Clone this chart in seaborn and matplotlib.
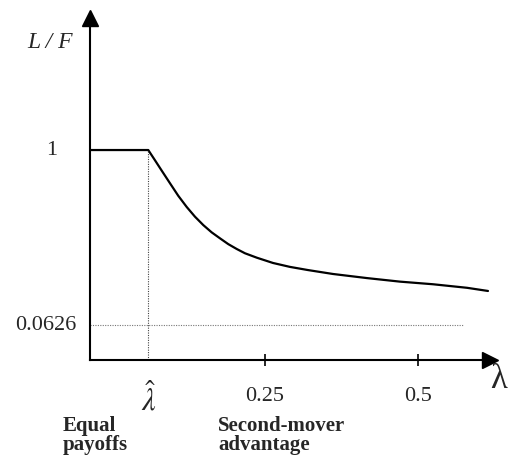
import numpy as np
import pandas as pd
import matplotlib
matplotlib.use("Agg")
import matplotlib.pyplot as plt
import matplotlib.transforms as mtransforms
import seaborn as sns

lam = [-0.0359, 0.0593, 0.0703, 0.0812, 0.0948, 0.1083, 0.1221, 0.1356,
       0.1492, 0.1629, 0.1765, 0.1900, 0.2038, 0.2173, 0.2369, 0.2631,
       0.2908, 0.3203, 0.3611, 0.4167, 0.4706, 0.5245, 0.5801, 0.6144]
ratio = [1.0, 1.0, 0.945, 0.890, 0.822, 0.755, 0.695, 0.643,
         0.598, 0.559, 0.527, 0.496, 0.470, 0.447, 0.423, 0.395,
         0.374, 0.357, 0.336, 0.314, 0.295, 0.281, 0.262, 0.245]

lam_hat = 0.0593
floor_value = 0.0626
floor_end = 0.5735
x_ticks = [0.25, 0.5]
x_tick_labels = ["0.25", "0.5"]
y_ticks = [floor_value, 1.0]
y_tick_labels = ["0.0626", "1"]

xlim = (-0.0359, 0.6185)
ylim = (-0.1248, 1.710)

df = pd.DataFrame({"lam": lam, "ratio": ratio})

sns.set_theme(style="white")
plt.rcParams["font.family"] = ["Liberation Serif", "DejaVu Serif"]
plt.rcParams["mathtext.fontset"] = "stix"

W, H = 510, 457
fig = plt.figure(figsize=(W / 100, H / 100), dpi=100)
ax = fig.add_axes([90 / W, 97 / H, (490.5 - 90) / W, (360 - 17.5) / H])

sns.lineplot(data=df, x="lam", y="ratio", ax=ax, color="black", lw=1.6)

# dotted guides
ax.plot([lam_hat, lam_hat], [ylim[0], 1.0], color="#444444", lw=0.8,
        ls=(0, (1, 1.2)))
ax.plot([xlim[0], floor_end], [floor_value, floor_value], color="#777777",
        lw=0.8, ls=(0, (1, 1.2)))

ax.set_xlim(*xlim)
ax.set_ylim(*ylim)

# axes with arrow heads
for s in ["top", "right"]:
    ax.spines[s].set_visible(False)
for s in ["left", "bottom"]:
    ax.spines[s].set_color("black")
    ax.spines[s].set_linewidth(1.5)
ax.plot(1, 0, ">", color="black", ms=11, transform=ax.transAxes, clip_on=False)
ax.plot(0, 1, "^", color="black", ms=11, transform=ax.transAxes, clip_on=False)

# x ticks
ax.set_xticks([lam_hat] + x_ticks)
ax.set_xticklabels([r"$\hat{\lambda}$"] + x_tick_labels)
ax.tick_params(axis="x", direction="inout", length=9, width=1.2,
               color="black", labelsize=16, pad=15, bottom=True)
ax.xaxis.get_major_ticks()[0].tick1line.set_visible(False)
hat_label = ax.get_xticklabels()[0]
hat_label.set_fontsize(22)
hat_label.set_transform(hat_label.get_transform() +
                        mtransforms.ScaledTranslation(0, 3 / 72, fig.dpi_scale_trans))

# y labels
ax.set_yticks([])
ytr = ax.get_yaxis_transform()
ax.text(-0.095, y_ticks[1], y_tick_labels[1], transform=ytr, fontsize=16,
        ha="center", va="center")
ax.text(-0.034, y_ticks[0], y_tick_labels[0], transform=ytr, fontsize=16,
        ha="right", va="center")

ax.set_xlabel("")
ax.set_ylabel("")

# axis names
fig.text(50 / W, 1 - 43 / H, "L / F", fontsize=17, style="italic",
         ha="center", va="center")
fig.text(499 / W, 1 - 379 / H, "λ", fontsize=25, ha="center", va="center")

# regime notes
fig.text(63 / W, 1 - 416 / H, "Equal\npayoffs", fontsize=15,
         fontweight="bold", ha="left", va="top", linespacing=0.95)
fig.text(218 / W, 1 - 416 / H, "Second-mover\nadvantage", fontsize=15,
         fontweight="bold", ha="left", va="top", linespacing=0.95)

fig.savefig("out.png", dpi=100)
